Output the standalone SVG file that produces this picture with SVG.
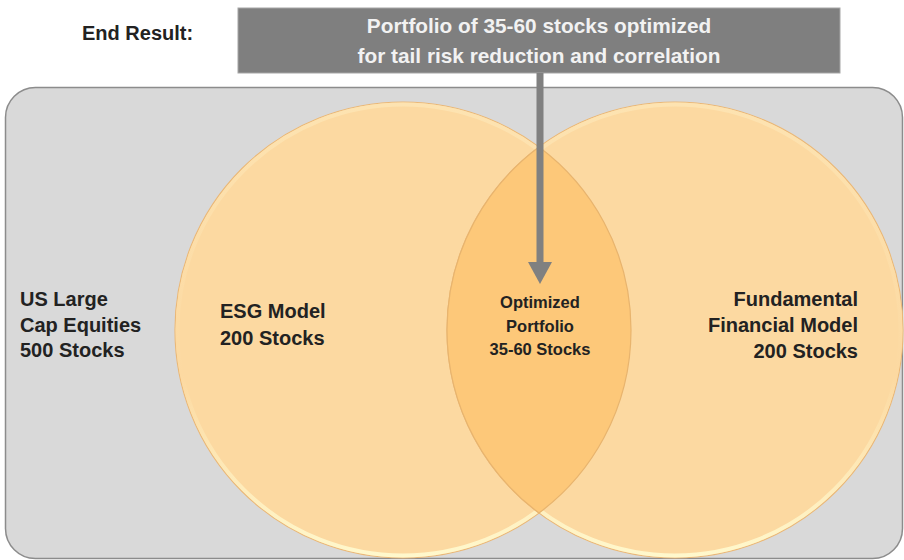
<svg xmlns="http://www.w3.org/2000/svg" width="904" height="560" viewBox="0 0 904 560">
  <style>
    .lbl { font-family: "Liberation Sans", Arial, sans-serif; font-weight: bold; fill: #222222; }
    .big { font-size: 20px; }
    .mid { font-size: 16.5px; }
    .title { font-family: "Liberation Sans", Arial, sans-serif; font-weight: bold; font-size: 20.8px; fill: #f2f2f2; text-anchor: middle; }
    .setfill { fill: #fcd9a1; stroke: #eab878; stroke-width: 1.2; }
    .rim { fill: none; stroke: url(#rimGrad); stroke-width: 4; }
  </style>
  <defs>
    <linearGradient id="rimGrad" x1="0" y1="0" x2="0" y2="1">
      <stop offset="0" stop-color="#fde3b1"/>
      <stop offset="0.6" stop-color="#fcd9a1"/>
      <stop offset="1" stop-color="#fff8cc"/>
    </linearGradient>
    <marker id="arrowHead" markerUnits="userSpaceOnUse" markerWidth="26" markerHeight="24" refX="2" refY="12" orient="auto">
      <path d="M0,0 L22,12 L0,24 Z" fill="#808080"/>
    </marker>
  </defs>

  <!-- universe container -->
  <g id="universe">
    <rect x="5.5" y="87.5" width="897" height="471" rx="30" ry="30" fill="#d9d9d9" stroke="#8c8c8c" stroke-width="1.5"/>
    <text class="lbl big" x="20" y="306">US Large</text>
    <text class="lbl big" x="20" y="332">Cap Equities</text>
    <text class="lbl big" x="20" y="357">500 Stocks</text>
  </g>

  <!-- ESG set -->
  <g id="esg">
    <circle class="setfill" cx="403" cy="330" r="228"/>
    <circle class="rim" cx="403" cy="330" r="225.5"/>
  </g>

  <!-- Fundamental set -->
  <g id="fundamental">
    <circle class="setfill" cx="675" cy="330" r="228"/>
    <circle class="rim" cx="675" cy="330" r="225.5"/>
  </g>

  <!-- overlap lens -->
  <g id="overlap">
    <path d="M539,147 A228,228 0 0 1 539,513 A228,228 0 0 1 539,147 Z" fill="#fdc879" stroke="#e8b46e" stroke-width="1.2"/>
  </g>

  <g id="esg-label">
    <text class="lbl big" x="220" y="318">ESG Model</text>
    <text class="lbl big" x="220" y="345">200 Stocks</text>
  </g>

  <g id="fundamental-label">
    <text class="lbl big" x="858" y="306" text-anchor="end">Fundamental</text>
    <text class="lbl big" x="858" y="332" text-anchor="end">Financial Model</text>
    <text class="lbl big" x="858" y="358" text-anchor="end">200 Stocks</text>
  </g>

  <g id="overlap-label">
    <text class="lbl mid" x="540" y="308" text-anchor="middle">Optimized</text>
    <text class="lbl mid" x="540" y="332" text-anchor="middle">Portfolio</text>
    <text class="lbl mid" x="540" y="355" text-anchor="middle">35-60 Stocks</text>
  </g>

  <!-- end result banner -->
  <g id="end-result">
    <text class="lbl big" x="82" y="40">End Result:</text>
    <rect x="238" y="8" width="602" height="65" fill="#7f7f7f" stroke="#a6a6a6" stroke-width="1"/>
    <text class="title" x="539" y="33">Portfolio of 35-60 stocks optimized</text>
    <text class="title" x="539" y="63">for tail risk reduction and correlation</text>
  </g>

  <!-- connectors -->
  <g id="connectors">
    <line x1="540" y1="73" x2="540" y2="264" stroke="#808080" stroke-width="7" marker-end="url(#arrowHead)"/>
  </g>
</svg>
